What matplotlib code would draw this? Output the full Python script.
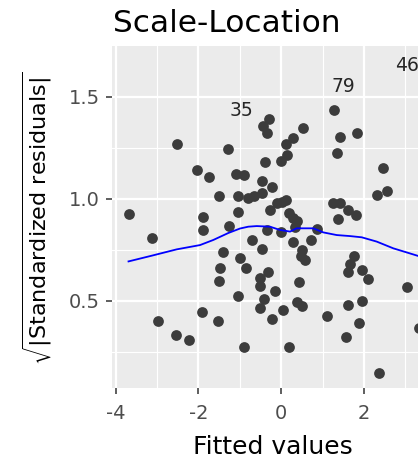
import matplotlib
matplotlib.use("Agg")
import matplotlib.pyplot as plt
from matplotlib.ticker import FixedLocator

# ---- data ----
fitted = [-2.51, -1.278, -2.027, -1.751, -1.099, -0.894, -0.283, -0.428, -0.343, 0.519,
          0.292, 0.111, 0.140, 0.007, -0.384, 1.275, 1.420, 1.838, 1.336, 2.466,
          2.548, 2.307, -0.452, -0.229, -0.464, -1.514, -1.036, -0.802, -0.669, -3.688,
          -1.882, -1.036, -0.263, -0.101, 0.012, 0.116, 0.196, 0.292, 0.374, 0.333,
          1.258, 1.420, 1.614, 1.807, 1.379, -1.889, -1.273, -3.121, -0.350, -0.005,
          0.858, -1.413, -0.990, -0.705, -0.471, 0.283, 0.713, 0.502, 0.478, 0.563,
          -1.471, -0.843, -1.514, -0.512, -0.512, -0.331, -0.145, -1.036, -0.415, 0.437,
          1.751, 1.662, 1.621, 1.945, 2.085, 3.032, -1.925, -2.971, -1.519, -2.548,
          -2.222, -0.894, -0.519, -0.229, 0.051, 0.196, 0.387, 0.507, 1.099, 1.606,
          1.945, 1.887, 1.565, 2.367, 3.317]
sqrt_std_resid = [1.268, 1.241, 1.141, 1.108, 1.121, 1.114, 1.390, 1.356, 1.324, 1.346,
                  1.296, 1.270, 1.216, 1.183, 1.182, 1.433, 1.304, 1.320, 1.226, 1.149,
                  1.037, 1.019, 1.089, 1.056, 1.029, 1.012, 1.013, 1.002, 1.011, 0.925,
                  0.910, 0.935, 0.943, 0.978, 0.985, 0.994, 0.929, 0.904, 0.891, 0.863,
                  0.978, 0.978, 0.945, 0.920, 0.901, 0.849, 0.866, 0.806, 0.847, 0.839,
                  0.850, 0.738, 0.711, 0.797, 0.753, 0.789, 0.798, 0.747, 0.718, 0.701,
                  0.659, 0.659, 0.599, 0.610, 0.573, 0.643, 0.548, 0.522, 0.507, 0.590,
                  0.720, 0.682, 0.643, 0.651, 0.608, 0.566, 0.444, 0.402, 0.402, 0.333,
                  0.306, 0.273, 0.464, 0.411, 0.454, 0.274, 0.493, 0.473, 0.427, 0.479,
                  0.498, 0.393, 0.325, 0.145, 0.369]

smooth_x = [-3.688, -3.128, -2.524, -1.961, -1.640, -1.278, -0.995, -0.795, -0.592, -0.271,
            -0.029, 0.213, 0.374, 0.775, 1.017, 1.341, 1.662, 1.945, 2.307, 2.708,
            3.032, 3.304]
smooth_y = [0.693, 0.721, 0.752, 0.773, 0.798, 0.832, 0.854, 0.863, 0.866, 0.863,
            0.847, 0.839, 0.855, 0.855, 0.835, 0.822, 0.817, 0.811, 0.790, 0.757,
            0.737, 0.720]

label_text = ["35", "79", "46"]
label_x = [-0.954, 1.500, 3.032]
label_y = [1.434, 1.548, 1.654]

x_major = [-4, -2, 0, 2]
x_minor = [-3, -1, 1, 3]
y_major = [0.5, 1.0, 1.5]
y_minor = [0.25, 0.75, 1.25, 1.75]
x_ticklabels = ["-4", "-2", "0", "2"]
y_ticklabels = ["0.5", "1.0", "1.5"]

title = "Scale-Location"
xlabel = "Fitted values"
ylabel = r"$\sqrt{|\mathrm{Standardized\ residuals}|}$"

# ---- figure ----
W, H = 418, 459
plt.rcParams["font.family"] = ["DejaVu Sans"]
plt.rcParams["mathtext.fontset"] = "dejavusans"
fig = plt.figure(figsize=(W / 100, H / 100), dpi=100)

left_px, top_px, bottom_px = 112, 46, 388
ax = fig.add_axes([left_px / W, 1 - bottom_px / H, 1 - left_px / W, (bottom_px - top_px) / H])
ax.set_facecolor("#EBEBEB")
for s in ax.spines.values():
    s.set_visible(False)

ax.set_xlim(-4.087, 3.304)
ax.set_ylim(0.0734, 1.7474)

ax.xaxis.set_major_locator(FixedLocator(x_major))
ax.xaxis.set_minor_locator(FixedLocator(x_minor))
ax.yaxis.set_major_locator(FixedLocator(y_major))
ax.yaxis.set_minor_locator(FixedLocator(y_minor))
ax.set_xticklabels(x_ticklabels)
ax.set_yticklabels(y_ticklabels)

ax.grid(which="major", color="white", linewidth=1.6)
ax.grid(which="minor", color="white", linewidth=0.8)
ax.set_axisbelow(True)

ax.tick_params(which="major", length=4.5, width=1.1, color="#333333",
               labelcolor="#4D4D4D", labelsize=14)
ax.tick_params(axis="x", which="major", pad=7)
ax.tick_params(axis="y", which="major", pad=4)
ax.tick_params(which="minor", length=0)

ax.scatter(fitted, sqrt_std_resid, s=60, color="#3C3C3C", linewidths=0, zorder=2)
ax.plot(smooth_x, smooth_y, color="#0000FF", linewidth=1.3, zorder=3)

for t, lx, ly in zip(label_text, label_x, label_y):
    ax.text(lx, ly, t, ha="center", va="center", fontsize=13.5, color="#262626", zorder=4)

fig.text(113 / W, 1 - 32 / H, title, fontsize=22.5, ha="left", va="baseline", color="black")
fig.text(272.5 / W, 1 - 453.5 / H, xlabel, fontsize=18, ha="center", va="baseline", color="black")
fig.text(37 / W, 1 - 218 / H, ylabel, fontsize=16, rotation=90, ha="center", va="center", color="black")

fig.savefig("out.png", dpi=100)
